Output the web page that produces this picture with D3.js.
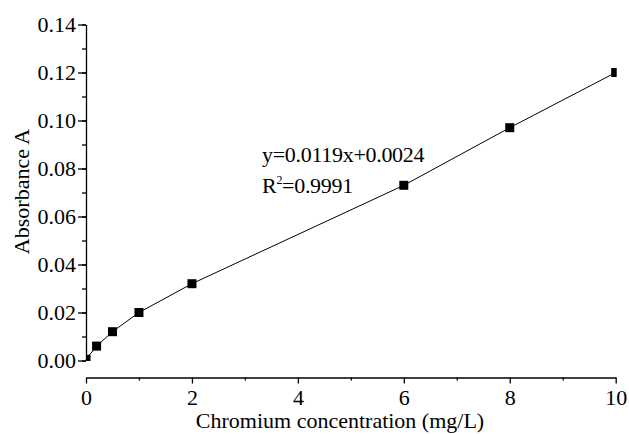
<!DOCTYPE html>
<html>
<head>
<meta charset="utf-8">
<script src="https://cdn.jsdelivr.net/npm/d3@7"></script>
<style>
  body { margin: 0; background: #fff; }
  text { font-family: "Liberation Serif", "Times New Roman", serif; fill: #000; }
</style>
</head>
<body>
<div id="chart"></div>
<script>
// calibration data
const concentrations = [0, 0.2, 0.5, 1, 2, 6, 8, 10];
const absorbances = [0.0005, 0.006, 0.012, 0.020, 0.032, 0.073, 0.097, 0.120];
const xTicks = [0, 2, 4, 6, 8, 10];
const yTicks = [0, 0.02, 0.04, 0.06, 0.08, 0.10, 0.12, 0.14];
const fitText = ["y=0.0119x+0.0024", "0.9991"];

const width = 629;
const height = 434;
const margin = { top: 24, right: 13, bottom: 74, left: 86 };

const svg = d3
  .select("#chart")
  .append("svg")
  .attr("width", width)
  .attr("height", height);

const xScale = d3
  .scaleLinear()
  .domain([0, 10])
  .range([margin.left, width - margin.right - 0.3]);

const yScale = d3
  .scaleLinear()
  .domain([0, 0.14])
  .range([360.5, margin.top + 0.5]);

// clip for markers at the edges
svg
  .append("clipPath")
  .attr("id", "plot-clip")
  .append("rect")
  .attr("x", xScale(0))
  .attr("y", yScale(0.14))
  .attr("width", xScale(10) - xScale(0) + 1)
  .attr("height", yScale(0) - yScale(0.14) + 0.5);

// y axis, minor ticks first
const yAxisG = svg.append("g").attr("transform", `translate(${xScale(0)},0)`);
yAxisG
  .call(
    d3.axisLeft(yScale)
      .tickValues(d3.range(0, 0.1401, 0.01))
      .tickSize(4)
      .tickFormat("")
      .tickSizeOuter(0)
  );
yAxisG
  .append("g")
  .call(
    d3.axisLeft(yScale)
      .tickValues(yTicks)
      .tickSize(8)
      .tickPadding(2)
      .tickFormat(d3.format(".2f"))
      .tickSizeOuter(0)
  )
  .call((g) => g.select(".domain").remove());

// x axis offset below the plot
const xAxisY = 377.5;
const xAxisG = svg.append("g").attr("transform", `translate(0,${xAxisY})`);
xAxisG.call(
  d3.axisBottom(xScale)
    .tickValues(d3.range(1, 10, 2))
    .tickSize(3)
    .tickFormat("")
    .tickSizeOuter(0)
);
xAxisG
  .append("g")
  .call(
    d3.axisBottom(xScale)
      .tickValues(xTicks)
      .tickSize(6)
      .tickFormat(d3.format("d"))
      .tickSizeOuter(0)
  )
  .call((g) => g.select(".domain").remove())
  .call((g) => g.selectAll(".tick text").attr("y", 27.5).attr("dy", null));

svg.selectAll(".domain, .tick line").attr("stroke", "#000").attr("stroke-width", 1.3);
svg.selectAll(".tick text").attr("font-size", "22px").attr("fill", "#000")
  .attr("font-family", "Liberation Serif");

// line through the points
const points = concentrations.map((c, i) => ({ x: c, y: absorbances[i] }));
const line = d3
  .line()
  .x((d) => xScale(d.x))
  .y((d) => yScale(d.y));

svg
  .append("path")
  .datum(points)
  .attr("fill", "none")
  .attr("stroke", "#000")
  .attr("stroke-width", 1)
  .attr("d", line);

// square markers
const sz = 9;
svg
  .append("g")
  .attr("clip-path", "url(#plot-clip)")
  .selectAll("rect")
  .data(points)
  .enter()
  .append("rect")
  .attr("x", (d) => xScale(d.x) - sz / 2)
  .attr("y", (d) => yScale(d.y) - sz / 2)
  .attr("width", sz)
  .attr("height", sz)
  .attr("fill", "#000");

// regression annotation
svg
  .append("text")
  .attr("x", 262)
  .attr("y", 162)
  .attr("font-size", "22px")
  .attr("letter-spacing", "-0.3px")
  .text(fitText[0]);

const r2 = svg
  .append("text")
  .attr("x", 262)
  .attr("y", 193)
  .attr("font-size", "22px")
  .attr("letter-spacing", "-0.3px");
r2.append("tspan").text("R");
r2.append("tspan").attr("font-size", "12px").attr("dy", -9).text("2");
r2.append("tspan").attr("dy", 9).text("=" + fitText[1]);

// axis titles
svg
  .append("text")
  .attr("transform", "rotate(-90)")
  .attr("x", -191.5)
  .attr("y", 29)
  .attr("text-anchor", "middle")
  .attr("font-size", "22px")
  .text("Absorbance A");

svg
  .append("text")
  .attr("x", 340)
  .attr("y", 428)
  .attr("text-anchor", "middle")
  .attr("font-size", "22px")
  .text("Chromium concentration (mg/L)");
</script>
</body>
</html>
